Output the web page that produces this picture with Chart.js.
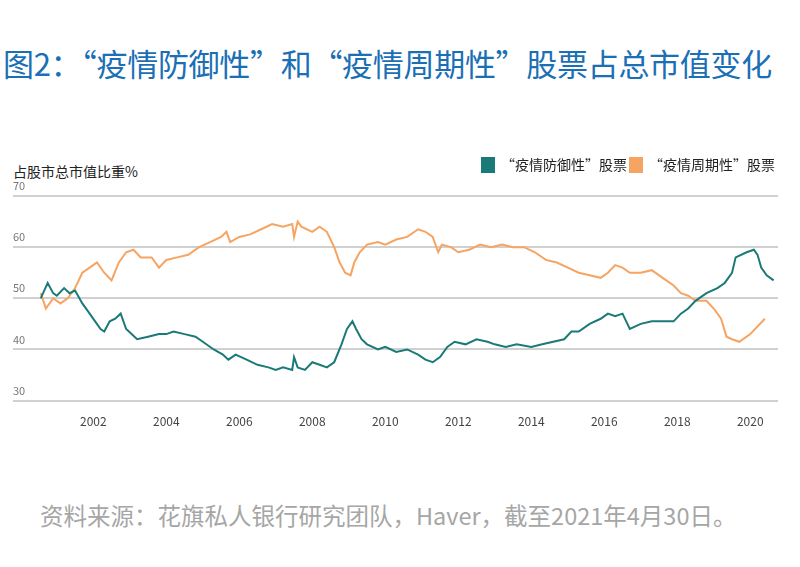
<!DOCTYPE html>
<html><head><meta charset="utf-8">
<script src="https://cdn.jsdelivr.net/npm/chart.js@4"></script>
<style>
body{margin:0;width:800px;height:567px;background:#fff;font-family:"Noto Sans CJK SC",sans-serif;position:relative;overflow:hidden}
#title{position:absolute;left:3px;top:40px;font-size:31px;color:#1a6fb5;white-space:nowrap;letter-spacing:-0.3px}
#ytitle{position:absolute;left:13px;top:161px;font-size:14px;color:#222;white-space:nowrap}
#src{position:absolute;left:40px;top:498px;font-size:23.5px;color:#a6a6a6;white-space:nowrap}
#wrap{position:absolute;left:0;top:155px;width:800px;height:280px}
</style></head><body>
<div id="title">图2：“疫情防御性”和“疫情周期性”股票占总市值变化</div>
<div id="ytitle">占股市总市值比重%</div>
<div id="wrap"><canvas id="c"></canvas></div>
<div id="src">资料来源：花旗私人银行研究团队，Haver，截至2021年4月30日。</div>
<script>
// "疫情防御性" share (%)
const defYears = [2000.56,2000.75,2000.9,2001.0,2001.2,2001.35,2001.5,2001.7,2001.9,2002.05,2002.2,2002.3,2002.45,2002.6,2002.75,2002.9,2003.05,2003.2,2003.5,2003.8,2004.0,2004.2,2004.5,2004.8,2005.0,2005.3,2005.55,2005.7,2005.9,2006.2,2006.5,2006.8,2007.0,2007.2,2007.45,2007.5,2007.6,2007.8,2008.0,2008.2,2008.4,2008.6,2008.8,2008.95,2009.1,2009.2,2009.35,2009.5,2009.8,2010.0,2010.3,2010.6,2010.9,2011.1,2011.3,2011.5,2011.7,2011.9,2012.2,2012.5,2012.8,2013.0,2013.3,2013.6,2014.0,2014.3,2014.6,2014.9,2015.1,2015.3,2015.6,2015.9,2016.1,2016.3,2016.5,2016.7,2017.0,2017.3,2017.6,2017.9,2018.1,2018.3,2018.5,2018.8,2019.1,2019.3,2019.5,2019.6,2019.9,2020.1,2020.2,2020.3,2020.45,2020.64];
const defValues = [50,53,51,50.5,52,51,51.5,49,47,45.5,44,43.5,45.5,46,47,44,43,42,42.5,43,43,43.5,43,42.5,41.5,40,39,38,39,38,37,36.5,36,36.5,36,38.5,36.5,36,37.5,37,36.5,37.5,41,44,45.5,44,42,41,40,40.5,39.5,40,39,38,37.5,38.5,40.5,41.5,41,42,41.5,41,40.5,41,40.5,41,41.5,42,43.5,43.5,45,46,47,46.5,47,44,45,45.5,45.5,45.5,47,48,49.5,51,52,53,55,58,59,59.5,58.5,56,54.5,53.5];
// "疫情周期性" share (%)
const cycYears = [2000.56,2000.7,2000.9,2001.1,2001.3,2001.5,2001.7,2001.9,2002.1,2002.3,2002.5,2002.7,2002.9,2003.1,2003.3,2003.6,2003.8,2004.0,2004.3,2004.6,2004.9,2005.2,2005.5,2005.65,2005.75,2006.0,2006.3,2006.6,2006.9,2007.2,2007.45,2007.5,2007.6,2007.7,2008.0,2008.2,2008.4,2008.6,2008.75,2008.9,2009.05,2009.15,2009.3,2009.5,2009.8,2010.0,2010.3,2010.6,2010.9,2011.1,2011.3,2011.45,2011.55,2011.8,2012.0,2012.3,2012.6,2012.9,2013.2,2013.5,2013.8,2014.1,2014.4,2014.7,2015.0,2015.3,2015.6,2015.9,2016.1,2016.3,2016.5,2016.7,2017.0,2017.3,2017.6,2017.9,2018.1,2018.3,2018.5,2018.8,2019.0,2019.2,2019.35,2019.5,2019.7,2020.0,2020.2,2020.4,2020.64];
const cycValues = [51,48,50,49,50,52,55,56,57,55,53.5,57,59,59.5,58,58,56,57.5,58,58.5,60,61,62,63,61,62,62.5,63.5,64.5,64,64.5,62,65,64,63,64,63,60,57,55,54.5,57,59,60.5,61,60.5,61.5,62,63.5,63,62,59,60.5,60,59,59.5,60.5,60,60.5,60,60,59,57.5,57,56,55,54.5,54,55,56.5,56,55,55,55.5,54,52.5,51,50.5,49.5,49.5,48,46,42.5,42,41.5,43,44.5,46];
const yTicks = [30,40,50,60,70];
const xTicks = [2002,2004,2006,2008,2010,2012,2014,2016,2018,2020];

const toPts = (xs, ys) => xs.map((x, i) => ({x: x, y: ys[i]}));
const font = {family: '"Noto Sans CJK SC", sans-serif', size: 12};

new Chart(document.getElementById('c'), {
    type: 'line',
    data: {
        datasets: [
            {label: '“疫情防御性”股票', data: toPts(defYears, defValues), borderColor: '#1a7a78', backgroundColor: '#1a7a78', borderWidth: 2, pointRadius: 0, tension: 0},
            {label: '“疫情周期性”股票', data: toPts(cycYears, cycValues), borderColor: '#f5a462', backgroundColor: '#f5a462', borderWidth: 2, pointRadius: 0, tension: 0}
        ]
    },
    options: {
        animation: false,
        responsive: true,
        maintainAspectRatio: false,
        layout: {padding: {left: 13, right: 22, top: 0}},
        plugins: {
            legend: {position: 'top', align: 'end', labels: {boxWidth: 12, boxHeight: 14, color: '#222', font: {family: font.family, size: 14}, padding: 3}},
            tooltip: {enabled: false}
        },
        scales: {
            x: {
                type: 'linear', min: 1999.8, max: 2020.76,
                afterBuildTicks: ax => { ax.ticks = xTicks.map(v => ({value: v})); },
                ticks: {color: '#444', font: font, callback: v => String(v), maxRotation: 0, padding: 6},
                grid: {display: false}, border: {display: false}
            },
            y: {
                min: 30, max: 70,
                afterBuildTicks: ax => { ax.ticks = yTicks.map(v => ({value: v})); },
                ticks: {mirror: true, labelOffset: -10, padding: 0, color: '#777', font: {family: font.family, size: 11}},
                grid: {color: '#d0d0d0', lineWidth: 2, drawTicks: false}, border: {display: false}
            }
        }
    },
    plugins: [{id: 'legendGap', beforeInit(chart) {
        const fit = chart.legend.fit;
        chart.legend.fit = function () { fit.bind(chart.legend)(); this.height += 14; };
    }}]
});
</script>
</body></html>
